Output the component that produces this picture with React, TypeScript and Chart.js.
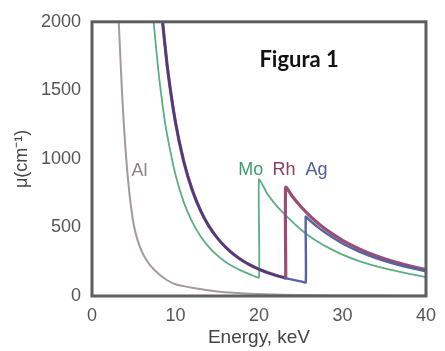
import React, { useEffect, useRef } from "react";
import { Chart, registerables } from "chart.js";

Chart.register(...registerables);

// Energy (keV) and attenuation μ (cm^-1)
const energyAl = [2.9, 3.2, 3.6, 4.1, 4.5, 5.0, 5.5, 6, 6.5, 7, 8, 9, 10, 11, 12, 15, 20, 25, 30, 35, 40];
const muAl = [2300, 2000, 1480, 1000, 740, 520, 400, 320, 265, 222, 160, 115, 86, 72, 60, 33, 14, 7, 4, 3, 2];

const energyMo = [7.0, 7.4, 8, 8.5, 9, 10, 11, 12, 13, 14, 15, 16, 17, 18, 19, 20, 20, 21, 22, 23, 24, 25, 26, 27, 28, 30, 32, 34, 36, 38, 40];
const muMo = [2313, 1986, 1614, 1371, 1175, 884, 683, 540, 435, 356, 296, 248, 211, 181, 156, 136, 850, 745, 665, 600, 540, 485, 438, 398, 362, 302, 255, 218, 188, 162, 138];

const energyRh = [8.0, 8.3, 9, 10, 11, 12, 13, 14, 15, 16, 17, 18, 19, 20, 21, 22, 23, 23.2, 23.2, 24, 25, 26, 27, 28, 30, 32, 34, 36, 38, 40];
const muRh = [2312, 2092, 1682, 1265, 979, 774, 623, 510, 424, 356, 302, 259, 224, 195, 171, 151, 134, 130, 793, 726, 653, 590, 534, 486, 406, 344, 294, 253, 220, 192];

const energyAg = [8.0, 8.3, 9, 10, 11, 12, 13, 14, 15, 16, 17, 18, 19, 20, 21, 22, 23, 24, 25, 25.6, 25.6, 26, 27, 28, 30, 32, 34, 36, 38, 40];
const muAg = [2312, 2092, 1682, 1265, 979, 774, 623, 510, 424, 356, 302, 259, 224, 195, 171, 151, 134, 119, 107, 100, 579, 556, 504, 459, 383, 324, 277, 239, 207, 181];

const xTicks = [0, 10, 20, 30, 40];
const yTicks = [0, 500, 1000, 1500, 2000];
const rhEdge = 23.2;

const seriesLabels = ["Al", "Mo", "Rh", "Ag"];
const seriesColors = ["#a39a9a", "#5aae82", "#9a4f72", "#5563a3"];
const overlapColor = "#4a3c7e";

const FONT = "Arial, 'Liberation Sans', sans-serif";

// Text annotations (in data units)
const annotations = [
  { text: "Al", x: 5.7, y: 915, color: "#8a8282", font: `18px ${FONT}` },
  { text: "Mo", x: 19.0, y: 920, color: "#3f9a6c", font: `18px ${FONT}` },
  { text: "Rh", x: 23.0, y: 920, color: "#8a3d5e", font: `18px ${FONT}` },
  { text: "Ag", x: 26.9, y: 920, color: "#4d5c9c", font: `18px ${FONT}` },
  { text: "Figura 1", x: 24.8, y: 1725, color: "#111111", font: "bold 22px Lato, 'Open Sans', sans-serif" },
];

const toPts = (xs: number[], ys: number[]) => xs.map((x, i) => ({ x, y: ys[i] }));

const framePlugin = {
  id: "frame",
  afterDatasetsDraw(chart: any) {
    const { ctx, chartArea, scales } = chart;
    ctx.save();
    ctx.beginPath();
    ctx.rect(chartArea.left, chartArea.top, chartArea.right - chartArea.left, chartArea.bottom - chartArea.top);
    ctx.clip();
    annotations.forEach((a) => {
      ctx.font = a.font;
      ctx.fillStyle = a.color;
      ctx.textAlign = "center";
      ctx.textBaseline = "middle";
      ctx.fillText(a.text, scales.x.getPixelForValue(a.x), scales.y.getPixelForValue(a.y));
    });
    ctx.restore();
    ctx.save();
    ctx.lineWidth = 3;
    ctx.strokeStyle = "#5e5e5e";
    ctx.strokeRect(chartArea.left, chartArea.top, chartArea.right - chartArea.left, chartArea.bottom - chartArea.top);
    ctx.restore();
  },
};

export default function App() {
  const ref = useRef<HTMLCanvasElement>(null);
  useEffect(() => {
    if (!ref.current) return;
    const datasets: any[] = [
      { data: toPts(energyAl, muAl), borderColor: seriesColors[0], borderWidth: 2, cubicInterpolationMode: "monotone", order: 3 },
      { data: toPts(energyMo, muMo), borderColor: seriesColors[1], borderWidth: 1.8, tension: 0.15, order: 2 },
      { data: toPts(energyRh, muRh), borderColor: seriesColors[2], borderWidth: 3.2, tension: 0.15, order: 1 },
      {
        data: toPts(energyAg, muAg),
        borderColor: seriesColors[3],
        borderWidth: 2.4,
        tension: 0.15,
        order: 0,
        segment: {
          borderColor: (c: any) => (c.p1.parsed.x <= rhEdge ? overlapColor : undefined),
        },
      },
    ].map((d, i) => ({ ...d, label: seriesLabels[i], pointRadius: 0, fill: false }));

    const tickFont = { family: FONT, size: 18 };
    const chart = new Chart(ref.current, {
      type: "line",
      data: { datasets },
      plugins: [framePlugin],
      options: {
        animation: false,
        responsive: false,
        maintainAspectRatio: false,
        layout: { padding: { left: 0, right: 12, top: 16, bottom: 0 } },
        plugins: { legend: { display: false }, tooltip: { enabled: false } },
        scales: {
          x: {
            type: "linear",
            min: 0,
            max: 40,
            afterFit: (s: any) => { s.height = 55; },
            afterBuildTicks: (s: any) => { s.ticks = xTicks.map((v) => ({ value: v })); },
            grid: { display: false, drawTicks: false },
            border: { display: false },
            ticks: { padding: 9, color: "#555", font: tickFont, callback: (v: any) => String(v) },
            title: {
              display: true,
              text: "Energy, keV",
              color: "#444",
              padding: { top: 0, bottom: 2 },
              font: { family: FONT, size: 19 },
            },
          },
          y: {
            type: "linear",
            min: 0,
            max: 2000,
            afterFit: (s: any) => { s.width = 92; },
            afterBuildTicks: (s: any) => { s.ticks = yTicks.map((v) => ({ value: v })); },
            grid: { display: false, drawTicks: false },
            border: { display: false },
            ticks: { padding: 11, color: "#555", font: tickFont, callback: (v: any) => String(v) },
            title: {
              display: true,
              text: "μ(cm⁻¹)",
              color: "#444",
              padding: { top: 11, bottom: 0 },
              font: { family: FONT, size: 18 },
            },
          },
        },
      },
    });
    return () => chart.destroy();
  }, []);

  return (
    <div style={{ position: "fixed", left: 0, top: 0, width: 445, height: 351, background: "#fff" }}>
      <canvas ref={ref} width={445} height={351} style={{ width: 445, height: 351 }} />
    </div>
  );
}
